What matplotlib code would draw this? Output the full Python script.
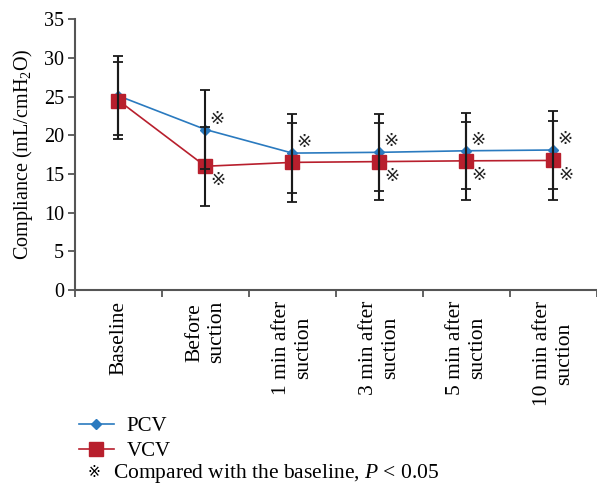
import matplotlib
matplotlib.use("Agg")
import matplotlib.pyplot as plt
from matplotlib.lines import Line2D

# data
categories = ["Baseline", "Before\nsuction", "1 min after\nsuction",
              "3 min after\nsuction", "5 min after\nsuction", "10 min after\nsuction"]
pcv_mean = [25.1, 20.75, 17.7, 17.8, 18.0, 18.1]
pcv_sd = [5.1, 5.05, 5.1, 5.0, 4.9, 5.0]
vcv_mean = [24.5, 16.0, 16.5, 16.6, 16.7, 16.75]
vcv_sd = [5.0, 5.1, 5.1, 5.0, 5.0, 5.1]
# significance vs baseline
pcv_sig = [False, True, True, True, True, True]
vcv_sig = [False, True, False, True, True, True]

plt.rcParams['font.family'] = ['Liberation Serif', 'DejaVu Sans']
plt.rcParams['mathtext.fontset'] = 'custom'
plt.rcParams['mathtext.rm'] = 'Liberation Serif'
plt.rcParams['mathtext.it'] = 'Liberation Serif:italic'

blue = '#2a7abf'
red = '#b81f2d'
axcol = '#555555'

fig = plt.figure(figsize=(5.97, 4.87), dpi=100)
ax = fig.add_axes([0.1256, 0.4045, 0.874, 0.5559])

x = list(range(len(categories)))
ax.plot(x, pcv_mean, color=blue, lw=1.2, marker='D', ms=5.5, zorder=3)
ax.plot(x, vcv_mean, color=red, lw=1.2, marker='s', ms=9.5, zorder=3)
ax.errorbar(x, pcv_mean, yerr=pcv_sd, fmt='none', ecolor='#1a1a1a',
            elinewidth=1.5, capsize=3.5, capthick=1.3, zorder=4)
ax.errorbar(x, vcv_mean, yerr=vcv_sd, fmt='none', ecolor='#1a1a1a',
            elinewidth=1.5, capsize=3.5, capthick=1.3, zorder=4)

for i in x:
    if pcv_sig[i]:
        ax.annotate('※', (i, pcv_mean[i]), xytext=(8, 7.5), textcoords='offset points',
                    ha='center', va='center', fontsize=13, color='#222222')
    if vcv_sig[i]:
        ax.annotate('※', (i, vcv_mean[i]), xytext=(9, -10.5), textcoords='offset points',
                    ha='center', va='center', fontsize=13, color='#222222')

ax.set_xlim(-0.5, 5.5)
ax.set_ylim(0, 35)
ax.set_yticks(range(0, 36, 5))
ax.set_xticks(x)
ax.set_xticklabels(categories, rotation=90, ha='center', va='top', multialignment='center')
ax.set_xticks([i - 0.5 for i in range(len(categories) + 1)], minor=True)
ax.tick_params(axis='x', which='major', length=0, pad=8, labelsize=15.5)
ax.tick_params(axis='x', which='minor', length=5, width=1.3, color=axcol, direction='out')
ax.tick_params(axis='y', length=5, width=1.3, color=axcol, labelsize=14.5, pad=3)
ax.set_ylabel('Compliance (mL/cmH$_2$O)', fontsize=14.5, labelpad=6)
for s in ['top', 'right']:
    ax.spines[s].set_visible(False)
for s in ['left', 'bottom']:
    ax.spines[s].set_color(axcol)
    ax.spines[s].set_linewidth(1.5)

handles = [Line2D([], [], color=blue, lw=1.2, marker='D', ms=5.5),
           Line2D([], [], color=red, lw=1.2, marker='s', ms=9.5)]
fig.legend(handles, ['PCV', 'VCV'], loc='upper left', bbox_to_anchor=(0.118, 0.162),
           frameon=False, fontsize=15, handlelength=1.7, handletextpad=0.6,
           labelspacing=0.25, borderaxespad=0)
fig.text(0.146, 0.027, '※', fontsize=11, ha='left', va='center')
fig.text(0.19, 0.027, 'Compared with the baseline, $P$ < 0.05', fontsize=15.5,
         ha='left', va='center')

fig.savefig('out.png', dpi=100)
